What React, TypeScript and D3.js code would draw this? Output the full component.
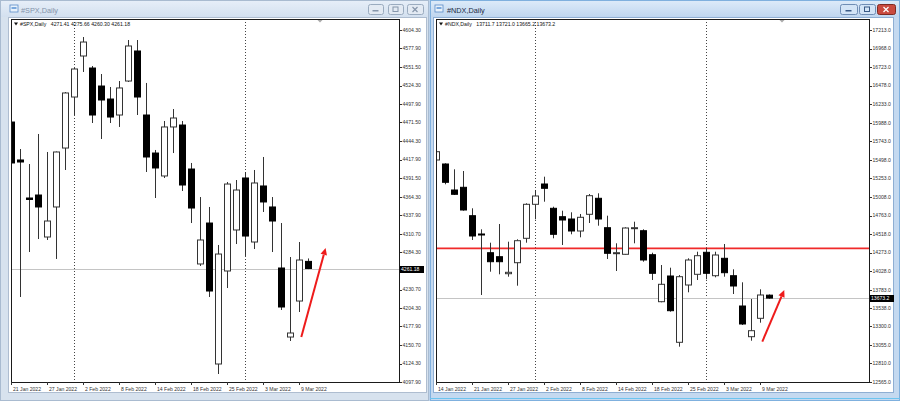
import React from "react";
import * as d3 from "d3";

// ---------------- SPX data ----------------
const spxDates = ["21 Jan 2022","24 Jan 2022","25 Jan 2022","26 Jan 2022","27 Jan 2022","28 Jan 2022","31 Jan 2022","1 Feb 2022","2 Feb 2022","3 Feb 2022","4 Feb 2022","7 Feb 2022","8 Feb 2022","9 Feb 2022","10 Feb 2022","11 Feb 2022","14 Feb 2022","15 Feb 2022","16 Feb 2022","17 Feb 2022","18 Feb 2022","22 Feb 2022","23 Feb 2022","24 Feb 2022","25 Feb 2022","28 Feb 2022","1 Mar 2022","2 Mar 2022","3 Mar 2022","4 Mar 2022","7 Mar 2022","8 Mar 2022","9 Mar 2022","10 Mar 2022"];
const spxOpen = [4471.9,4417.3,4362.6,4366.9,4306.5,4349.7,4434.5,4507.9,4566.9,4549.6,4523.7,4505.0,4482.0,4530.9,4574.1,4482.0,4427.3,4394.3,4464.8,4467.6,4404.3,4267.7,4326.6,4123.8,4257.6,4316.6,4391.4,4299.3,4379.9,4349.7,4261.9,4162.6,4214.4,4271.41];
const spxHigh = [4495.0,4433.1,4411.5,4454.7,4428.8,4429.5,4515.1,4549.6,4594.2,4552.5,4541.0,4522.3,4530.9,4589.9,4589.9,4528.1,4431.7,4473.4,4490.6,4473.4,4413.0,4364.0,4349.7,4295.0,4385.6,4388.5,4400.0,4402.9,4421.6,4364.0,4326.6,4277.7,4299.3,4275.66];
const spxLow = [4394.3,4220.2,4284.9,4303.6,4302.2,4274.9,4402.9,4482.0,4543.9,4470.5,4447.5,4470.5,4464.8,4529.5,4482.0,4400.0,4362.6,4391.4,4427.3,4372.7,4326.6,4264.8,4220.2,4109.4,4233.1,4296.4,4279.2,4289.2,4342.5,4284.9,4201.5,4156.9,4198.6,4260.30];
const spxClose = [4413.0,4414.4,4360.5,4349.7,4329.5,4428.8,4513.7,4548.2,4587.0,4482.0,4503.6,4479.1,4520.9,4581.3,4507.9,4421.6,4405.8,4464.8,4477.7,4381.3,4348.2,4302.2,4228.8,4282.0,4382.7,4374.1,4307.9,4384.2,4356.9,4329.5,4205.8,4168.4,4273.4,4261.18];
const spxDateTicks = ["21 Jan 2022","27 Jan 2022","2 Feb 2022","8 Feb 2022","14 Feb 2022","18 Feb 2022","25 Feb 2022","3 Mar 2022","9 Mar 2022"];
const spxPriceTicks = [4604.30,4577.90,4551.50,4524.30,4497.90,4471.50,4444.30,4417.90,4391.50,4364.30,4337.90,4310.70,4284.30,4230.70,4204.30,4177.90,4150.70,4124.30,4097.90];
const spxArrow = [[32.2, 4162.6],[34.9, 4290.7]];

// ---------------- NDX data ----------------
const ndxDates = ["14 Jan 2022","18 Jan 2022","19 Jan 2022","20 Jan 2022","21 Jan 2022","24 Jan 2022","25 Jan 2022","26 Jan 2022","27 Jan 2022","28 Jan 2022","31 Jan 2022","1 Feb 2022","2 Feb 2022","3 Feb 2022","4 Feb 2022","7 Feb 2022","8 Feb 2022","9 Feb 2022","10 Feb 2022","11 Feb 2022","14 Feb 2022","15 Feb 2022","16 Feb 2022","17 Feb 2022","18 Feb 2022","22 Feb 2022","23 Feb 2022","24 Feb 2022","25 Feb 2022","28 Feb 2022","1 Mar 2022","2 Mar 2022","3 Mar 2022","4 Mar 2022","7 Mar 2022","8 Mar 2022","9 Mar 2022","10 Mar 2022"];
const ndxOpen = [15496.4,15443.6,15100.3,15135.9,14760.9,14519.3,14272.3,14219.5,13995.0,14140.3,14462.5,14911.4,15179.5,14858.6,14747.7,14717.3,14558.9,14779.4,14990.7,14602.5,14264.4,14251.2,14592.0,14562.8,14245.9,13625.3,13964.7,13089.2,13845.8,13987.1,14277.6,13968.6,14198.4,13968.6,13568.5,13163.2,13406.1,13711.7];
const ndxHigh = [15641.6,15452.8,15373.6,15351.1,14858.6,14581.3,14404.4,14651.3,14417.6,14449.3,14924.6,15100.3,15275.9,14879.7,14826.9,14805.8,14783.4,15047.4,15056.7,14760.9,14396.5,14607.7,14681.7,14581.3,14272.3,14109.9,14074.3,13977.9,14198.4,14285.5,14330.4,14285.5,14387.2,14053.1,13881.5,13661.0,13789.1,13721.0];
const ndxLow = [15320.8,15175.5,15034.2,14826.9,14440.0,13713.8,14021.5,13987.1,13955.4,13836.6,14404.4,14713.4,14945.8,14462.5,14374.0,14515.3,14475.7,14664.5,14628.9,14189.2,14030.7,14248.0,14396.5,14153.5,13911.9,13617.4,13493.3,13031.1,13749.4,13911.9,13921.1,13947.5,13955.4,13727.0,13317.7,13110.3,13348.0,13665.2];
const ndxClose = [15606.0,15201.9,15043.5,14836.2,14492.9,14510.0,14153.5,14153.5,14013.5,14430.8,14911.4,15021.0,15122.7,14515.3,14704.1,14558.9,14739.8,15025.0,14717.3,14264.4,14272.3,14598.5,14602.5,14176.0,14000.3,13855.1,13506.5,13955.4,14176.0,14232.7,14000.3,14242.0,14008.3,13832.6,13330.9,13242.4,13713.8,13673.2];
const ndxDateTicks = ["14 Jan 2022","21 Jan 2022","27 Jan 2022","2 Feb 2022","8 Feb 2022","14 Feb 2022","18 Feb 2022","25 Feb 2022","3 Mar 2022","9 Mar 2022"];
const ndxPriceTicks = [17213.0,16968.0,16723.0,16478.0,16233.0,15988.0,15743.0,15498.0,15253.0,15008.0,14763.0,14518.0,14273.0,14028.0,13783.0,13538.0,13300.0,13055.0,12810.0,12565.0];
const ndxLevel = 14330;
const ndxArrow = [[36.2, 13097],[38.64, 13780]];

const AX_FONT = "'Liberation Sans', Arial, sans-serif";

type PanelProps = {
  id: string; symbol: string; digits: number;
  dates: string[]; open: number[]; high: number[]; low: number[]; close: number[];
  dateTicks: string[]; priceTicks: number[];
  plot: { left: number; top: number; right: number; bottom: number };
  shiftX: number; level?: number; arrow: number[][];
};

function Panel(p: PanelProps) {
  const { plot } = p;
  const n = p.dates.length;
  const step = 9;
  const x = d3.scaleLinear().domain([0, n - 1]).range([plot.left + 0.5, plot.left + 0.5 + step * (n - 1)]);
  const y = d3.scaleLinear().domain([d3.min(p.priceTicks)!, d3.max(p.priceTicks)!]).range([382, 30]);
  const last = n - 1;
  const fmt = (v: number) => v.toFixed(p.digits);
  const seps = p.dates.map((d, i) => (i > 0 && d.split(" ")[1] !== p.dates[i - 1].split(" ")[1] ? i : -1)).filter(i => i >= 0);
  const cur = p.close[last];
  const curY = Math.round(y(cur)) + 0.5;

  const [a0, a1] = p.arrow.map(([i, v]) => [x(i), y(v)]);
  const ang = Math.atan2(a1[1] - a0[1], a1[0] - a0[0]);
  const hl = 7, hw = 3.3;
  const bx = a1[0] - hl * Math.cos(ang), by = a1[1] - hl * Math.sin(ang);
  const head = [
    [a1[0], a1[1]],
    [bx + hw * Math.sin(ang), by - hw * Math.cos(ang)],
    [bx - hw * Math.sin(ang), by + hw * Math.cos(ang)],
  ];

  return (
    <g>
      <defs>
        <clipPath id={p.id + "clip"}>
          <rect x={plot.left + 1} y={plot.top + 1} width={plot.right - plot.left - 1} height={plot.bottom - plot.top - 1} />
        </clipPath>
      </defs>
      <g clipPath={`url(#${p.id}clip)`}>
        {seps.map(i => (
          <line key={i} x1={x(i)} x2={x(i)} y1={plot.top} y2={plot.bottom} stroke="#444" strokeDasharray="1 2" />
        ))}
        <line x1={plot.left} x2={plot.right} y1={curY} y2={curY} stroke="#c4c4c4" />
        {p.level !== undefined && (
          <line x1={plot.left} x2={plot.right} y1={y(p.level)} y2={y(p.level)} stroke="#f02a2a" strokeWidth={1.6} />
        )}
        {p.open.map((o, i) => {
          const c = p.close[i];
          const cx = x(i);
          const up = c >= o;
          const t = y(Math.max(o, c));
          const b = y(Math.min(o, c));
          return (
            <g key={i}>
              <line x1={cx} x2={cx} y1={y(p.high[i])} y2={y(p.low[i])} stroke="#333" />
              <rect x={cx - 3} y={t} width={6} height={Math.max(b - t, 1)} fill={up ? "#fff" : "#000"} stroke={up ? "#333" : "#000"} />
            </g>
          );
        })}
        <line x1={a0[0]} y1={a0[1]} x2={bx} y2={by} stroke="#ee1b1b" strokeWidth={2} />
        <polygon points={head.map(q => q.join(",")).join(" ")} fill="#ee1b1b" />
      </g>
      {/* plot border */}
      <rect x={plot.left + 0.5} y={plot.top + 0.5} width={plot.right - plot.left} height={plot.bottom - plot.top} fill="none" stroke="#1a1a1a" />
      {/* chart shift marker */}
      <path d={`M${p.shiftX - 2.5},${plot.top + 1} L${p.shiftX + 2.5},${plot.top + 1} L${p.shiftX},${plot.top + 3.5} Z`} fill="#aaa" />
      {/* legend */}
      <path d={`M${plot.left + 3},${plot.top + 3.5} L${plot.left + 7},${plot.top + 3.5} L${plot.left + 5},${plot.top + 6.5} Z`} fill="#111" />
      <text x={plot.left + 9} y={plot.top + 7} fontFamily={AX_FONT} fontSize={5.2} fill="#111">
        {p.symbol}
        <tspan dx={4.5}>{[p.open[last], p.high[last], p.low[last], p.close[last]].map(fmt).join(" ")}</tspan>
      </text>
      {/* price axis */}
      {p.priceTicks.map((v, i) => (
        <g key={i}>
          <line x1={plot.right + 1} x2={plot.right + 3} y1={Math.round(y(v)) + 0.5} y2={Math.round(y(v)) + 0.5} stroke="#333" />
          <text x={plot.right + 3.5} y={y(v) + 1.8} fontFamily={AX_FONT} fontSize={5.1} fill="#333">{fmt(v)}</text>
        </g>
      ))}
      <rect x={plot.right + 1} y={curY - 3.5} width={24} height={7} fill="#000" />
      <text x={plot.right + 2} y={curY + 1.8} fontFamily={AX_FONT} fontSize={5.1} fill="#fff">{fmt(cur)}</text>
      {/* date axis */}
      {p.dateTicks.map((d, k) => {
        const i = p.dates.indexOf(d);
        const tx = x(i);
        return (
          <g key={k}>
            <line x1={tx} x2={tx} y1={plot.bottom} y2={plot.bottom + 3} stroke="#333" />
            <text x={tx + 1.5} y={plot.bottom + 8.5} fontFamily={AX_FONT} fontSize={5.1} fill="#333">{d}</text>
          </g>
        );
      })}
    </g>
  );
}

function WindowFrame(props: { x: number; w: number; title: string; active: boolean; clientX: number; clientW: number; iconX: number; textX: number; btns: number[][] }) {
  const { x, w, active } = props;
  return (
    <g>
      <rect x={x} y={0} width={w} height={401} fill={active ? "#c4d9f0" : "#d7e2ee"} />
      <rect x={x + 0.5} y={0.5} width={w - 1} height={400} fill="none" stroke={active ? "#7fb0de" : "#a9bbd0"} />
      <rect x={x + 1} y={1} width={w - 2} height={16} fill={`url(#${active ? "tbA" : "tbI"})`} />
      <rect x={props.clientX - 0.5} y={17.5} width={props.clientW + 1} height={375} fill="none" stroke={active ? "#8eaed3" : "#aebdd0"} />
      <rect x={props.clientX} y={18} width={props.clientW} height={374} fill="#fff" />
      {/* icon */}
      <rect x={props.iconX} y={5} width={8} height={7} fill="#e9f2fb" stroke="#5b8cc7" strokeWidth={0.8} />
      <rect x={props.iconX + 1.5} y={7} width={5} height={2} fill="#7aa8dd" />
      <text x={props.textX} y={13} fontFamily={AX_FONT} fontSize={7.3} fill={active ? "#1b2a44" : "#8393aa"}>{props.title}</text>
      {props.btns.map(([bx, bw], i) => {
        const isClose = i === 2;
        const fill = isClose && active ? "#c94a3f" : active ? "#d3e4f6" : "#e3eaf3";
        const stroke = isClose && active ? "#7e2a22" : active ? "#6f8db4" : "#9aabbf";
        const g = isClose && active ? "#fff" : active ? "#3a5a85" : "#8696ab";
        const cx = bx + bw / 2;
        return (
          <g key={i}>
            <rect x={bx + 0.5} y={4.5} width={bw} height={10} rx={2} fill={fill} stroke={stroke} />
            {i === 0 && <rect x={cx - 3} y={10} width={6} height={1.5} fill={g} />}
            {i === 1 && <rect x={cx - 2.5} y={7} width={5} height={4.5} fill="none" stroke={g} strokeWidth={1} />}
            {i === 2 && (
              <path d={`M${cx - 2.5},${7} L${cx + 2.5},${12} M${cx + 2.5},${7} L${cx - 2.5},${12}`} stroke={g} strokeWidth={1.2} />
            )}
          </g>
        );
      })}
    </g>
  );
}

export default function App() {
  return (
    <svg width={900} height={401} viewBox="0 0 900 401" style={{ position: "absolute", left: 0, top: 0, display: "block" }}>
      <defs>
        <linearGradient id="tbI" x1="0" x2="0" y1="0" y2="1">
          <stop offset="0" stopColor="#e6eef8" />
          <stop offset="1" stopColor="#d3e0ef" />
        </linearGradient>
        <linearGradient id="tbA" x1="0" x2="0" y1="0" y2="1">
          <stop offset="0" stopColor="#dceaf9" />
          <stop offset="1" stopColor="#bfd6ef" />
        </linearGradient>
      </defs>
      <rect x={0} y={0} width={900} height={401} fill="#bcd3ec" />
      <WindowFrame x={0} w={429} title="#SPX,Daily" active={false} clientX={9} clientW={417} iconX={10} textX={21}
        btns={[[368, 15], [388, 15], [407, 16]]} />
      <WindowFrame x={430} w={470} title="#NDX,Daily" active={true} clientX={434} clientW={459} iconX={435} textX={447}
        btns={[[840, 17], [859, 16], [877, 18]]} />
      <line x1={430} x2={900} y1={398.5} y2={398.5} stroke="#6cc4ef" />
      <Panel id="spx" symbol="#SPX,Daily" digits={2} dates={spxDates} open={spxOpen} high={spxHigh} low={spxLow} close={spxClose}
        dateTicks={spxDateTicks} priceTicks={spxPriceTicks} plot={{ left: 11, top: 19, right: 399, bottom: 382 }} shiftX={320} arrow={spxArrow} />
      <Panel id="ndx" symbol="#NDX,Daily" digits={1} dates={ndxDates} open={ndxOpen} high={ndxHigh} low={ndxLow} close={ndxClose}
        dateTicks={ndxDateTicks} priceTicks={ndxPriceTicks} plot={{ left: 436, top: 19, right: 869, bottom: 382 }} shiftX={782} level={ndxLevel} arrow={ndxArrow} />
    </svg>
  );
}
